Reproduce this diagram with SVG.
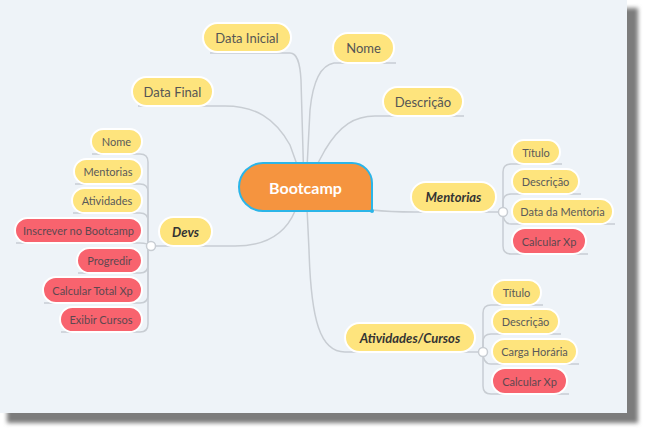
<svg xmlns="http://www.w3.org/2000/svg" width="646" height="431" viewBox="0 0 646 431">
<defs>
<filter id="blur" x="-5%" y="-5%" width="110%" height="110%"><feGaussianBlur stdDeviation="2"/></filter>
<style>
.ln{fill:none;stroke:#c8cdd3;stroke-width:1.5}
.dot{fill:#fff;stroke:#c8cdd3;stroke-width:1.5}
.y{fill:#fee47d;stroke:#fff;stroke-width:2}
.r{fill:#f8636e;stroke:#fff;stroke-width:2}
.t{font-family:Lato,"Open Sans",sans-serif;font-size:11px;fill:#5a5a5a;text-anchor:middle;dominant-baseline:central}
.tr{font-family:Lato,"Open Sans",sans-serif;font-size:11px;fill:#5e4850;text-anchor:middle;dominant-baseline:central}
.tb{font-family:Lato,"Open Sans",sans-serif;font-size:13px;fill:#555;text-anchor:middle;dominant-baseline:central}
.tm{font-family:Lato,"Open Sans",sans-serif;font-size:13px;font-weight:bold;font-style:italic;fill:#333;text-anchor:middle;dominant-baseline:central}
</style>
</defs>
<rect x="7" y="8" width="631" height="415" fill="#7b7b7b" filter="url(#blur)"/>
<rect x="0" y="0" width="627" height="413" fill="#eef3f8"/>
<g id="connectors">
<path class="ln" d="M210 53 H290 C297 53 300 62 301 80 L304 187"/>
<path class="ln" d="M396 63 H334 C322 65 313 80 310 110 L306 187"/>
<path class="ln" d="M138 106 H225 C255 106 275 118 290 145 L305 187"/>
<path class="ln" d="M464 116 H375 C355 116 340 125 325 150 L305 187"/>
<path class="ln" d="M372 210 Q390 212 415 212 L499 212"/>
<path class="ln" d="M503 212 V172 Q503 164 511 164 H562"/>
<path class="ln" d="M503 212 V202 Q503 194 511 194 H581"/>
<path class="ln" d="M503 212 Q503 224 511 224 H615"/>
<path class="ln" d="M503 212 V246 Q503 254 511 254 H588"/>
<path class="ln" d="M306 187 L309 250 C311 320 320 352 345 352 H479"/>
<path class="ln" d="M483 352 V313 Q483 305 491 305 H543"/>
<path class="ln" d="M483 352 V342 Q483 334 491 334 H561"/>
<path class="ln" d="M483 352 Q483 364 491 364 H579"/>
<path class="ln" d="M483 352 V386 Q483 394 491 394 H569"/>
<path class="ln" d="M155 246 H235 C265 246 285 235 295 211 L305 187"/>
<path class="ln" d="M148 246 V162 Q148 154 140 154 H92"/>
<path class="ln" d="M148 246 V192 Q148 184 140 184 H75"/>
<path class="ln" d="M148 246 V221 Q148 213 140 213 H73"/>
<path class="ln" d="M148 246 Q148 243 140 243 H16"/>
<path class="ln" d="M148 246 V265 Q148 273 140 273 H78"/>
<path class="ln" d="M148 246 V295 Q148 303 140 303 H44"/>
<path class="ln" d="M148 246 V324 Q148 332 140 332 H61"/>
<circle class="dot" cx="503" cy="212" r="4.5"/>
<circle class="dot" cx="483" cy="352" r="4.5"/>
<circle class="dot" cx="151" cy="246" r="4.5"/>
</g>
<g id="bootcamp">
<path d="M263 163 H352 A20 20 0 0 1 372 183 V211 H263 A24 24 0 0 1 263 163 Z" fill="#f5943f" stroke="#2bb5e8" stroke-width="2"/>
<circle cx="372" cy="211" r="2" fill="#2bb5e8"/>
<text x="305.5" y="187" font-family="Lato,'Open Sans',sans-serif" font-size="16" font-weight="bold" fill="#fff" text-anchor="middle" dominant-baseline="central">Bootcamp</text>
</g>
<g id="data-inicial"><rect class="y" x="203" y="23" width="88" height="29" rx="14.5"/><text class="tb" x="247" y="37.5">Data Inicial</text></g>
<g id="nome"><rect class="y" x="333" y="33" width="61" height="30" rx="15"/><text class="tb" x="363.5" y="48">Nome</text></g>
<g id="data-final"><rect class="y" x="132" y="77" width="81" height="29" rx="14.5"/><text class="tb" x="172.5" y="91.5">Data Final</text></g>
<g id="descricao"><rect class="y" x="383" y="87" width="80" height="29" rx="14.5"/><text class="tb" x="423" y="101.5">Descrição</text></g>
<g id="mentorias"><rect class="y" x="411" y="182" width="85" height="30" rx="15"/><text class="tm" x="453.5" y="197">Mentorias</text></g>
<g id="m-titulo"><rect class="y" x="512" y="140" width="48" height="24" rx="12"/><text class="t" x="536" y="152">Título</text></g>
<g id="m-descricao"><rect class="y" x="512" y="169" width="67" height="25" rx="12.5"/><text class="t" x="545.5" y="181.5">Descrição</text></g>
<g id="m-data"><rect class="y" x="512" y="199" width="101" height="25" rx="12.5"/><text class="t" x="562.5" y="211.5">Data da Mentoria</text></g>
<g id="m-xp"><rect class="r" x="512" y="228" width="74" height="26" rx="13"/><text class="tr" x="549" y="241">Calcular Xp</text></g>
<g id="atividades"><rect class="y" x="345" y="323" width="130" height="29" rx="14.5"/><text class="tm" x="410" y="337.5">Atividades/Cursos</text></g>
<g id="a-titulo"><rect class="y" x="492" y="280" width="49" height="25" rx="12.5"/><text class="t" x="516.5" y="292.5">Título</text></g>
<g id="a-descricao"><rect class="y" x="492" y="309" width="67" height="25" rx="12.5"/><text class="t" x="525.5" y="321.5">Descrição</text></g>
<g id="a-carga"><rect class="y" x="492" y="339" width="85" height="25" rx="12.5"/><text class="t" x="534.5" y="351.5">Carga Horária</text></g>
<g id="a-xp"><rect class="r" x="492" y="368" width="75" height="26" rx="13"/><text class="tr" x="529.5" y="381">Calcular Xp</text></g>
<g id="devs"><rect class="y" x="159" y="217" width="53" height="29" rx="14.5"/><text class="tm" x="185.5" y="231.5">Devs</text></g>
<g id="d-nome"><rect class="y" x="91" y="129" width="51" height="25" rx="12.5"/><text class="t" x="116.5" y="141.5">Nome</text></g>
<g id="d-mentorias"><rect class="y" x="74" y="159" width="68" height="25" rx="12.5"/><text class="t" x="108" y="171.5">Mentorias</text></g>
<g id="d-atividades"><rect class="y" x="72" y="188" width="70" height="25" rx="12.5"/><text class="t" x="107" y="200.5">Atividades</text></g>
<g id="d-inscrever"><rect class="r" x="15" y="218" width="127" height="25" rx="12.5"/><text class="tr" x="78.5" y="230.5">Inscrever no Bootcamp</text></g>
<g id="d-progredir"><rect class="r" x="77" y="248" width="65" height="25" rx="12.5"/><text class="tr" x="109.5" y="260.5">Progredir</text></g>
<g id="d-calcular"><rect class="r" x="43" y="277" width="99" height="26" rx="13"/><text class="tr" x="92.5" y="290">Calcular Total Xp</text></g>
<g id="d-exibir"><rect class="r" x="60" y="307" width="82" height="25" rx="12.5"/><text class="tr" x="101" y="319.5">Exibir Cursos</text></g>
</svg>
